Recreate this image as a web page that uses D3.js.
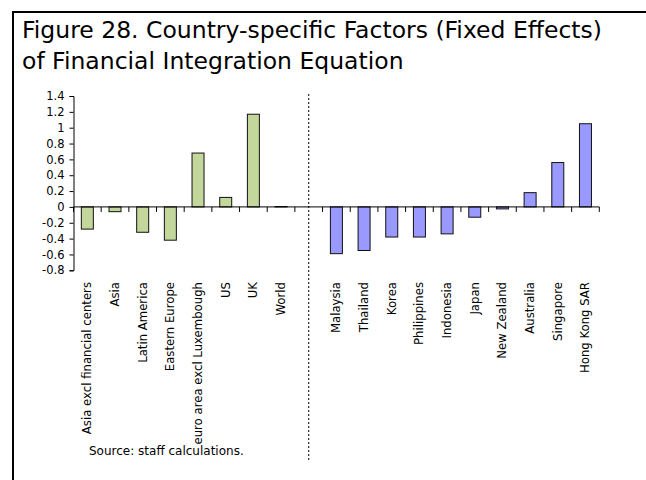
<!DOCTYPE html>
<html><head><meta charset="utf-8">
<script src="https://cdn.jsdelivr.net/npm/d3@7"></script>
<style>
body{margin:0;background:#fff;}
svg{display:block;}
text{font-family:"DejaVu Sans",sans-serif;fill:#000;}
</style></head><body>
<svg id="c" width="646" height="480"></svg>
<script>
const titleLines = ["Figure 28. Country-specific Factors (Fixed Effects)", "of Financial Integration Equation"];
const groupCats = ["Asia excl financial centers","Asia","Latin America","Eastern Europe","euro area excl Luxembough","US","UK","World"];
const groupVals = [-0.28,-0.06,-0.32,-0.42,0.68,0.12,1.17,0.005];
const countryCats = ["Malaysia","Thailand","Korea","Philippines","Indonesia","Japan","New Zealand","Australia","Singapore","Hong Kong SAR"];
const countryVals = [-0.59,-0.55,-0.38,-0.38,-0.34,-0.13,-0.025,0.18,0.56,1.05];
const yTicks = [-0.8,-0.6,-0.4,-0.2,0,0.2,0.4,0.6,0.8,1,1.2,1.4];
const source = "Source: staff calculations.";

const svg = d3.select("#c");
// frame (top and left edges)
svg.append("line").attr("x1",12).attr("x2",646).attr("y1",12).attr("y2",12).attr("stroke","#000").attr("stroke-width",2);
svg.append("line").attr("x1",13).attr("x2",13).attr("y1",11).attr("y2",480).attr("stroke","#000").attr("stroke-width",2);

svg.selectAll("text.title").data(titleLines).enter().append("text")
  .attr("x",22).attr("y",(d,i)=>38+i*31).attr("font-size",23.5).text(d=>d);

const allCats = groupCats.concat(["__gap"], countryCats);
const x = d3.scaleBand().domain(allCats).range([73.5,599.3]).paddingInner(0).paddingOuter(0);
const y = d3.scaleLinear().domain([-0.8,1.4]).range([270.3,96]);

const data = groupCats.map((c,i)=>({c,v:groupVals[i],g:0}))
  .concat(countryCats.map((c,i)=>({c,v:countryVals[i],g:1})));

const bw = 12;
svg.selectAll("rect.bar").data(data).enter().append("rect")
  .attr("x",d=>x(d.c)+x.bandwidth()/2-bw/2)
  .attr("width",bw)
  .attr("y",d=>y(Math.max(0,d.v)))
  .attr("height",d=>Math.abs(y(d.v)-y(0)))
  .attr("fill",d=>d.g?"#9999FF":"#C3D69B")
  .attr("stroke","#111").attr("stroke-width",1);

// y axis
const yAxis = d3.axisLeft(y).tickValues(yTicks).tickSize(4).tickPadding(5)
  .tickFormat(d=>String(+d.toFixed(1)));
const gy = svg.append("g").attr("transform","translate(73.5,0)").call(yAxis);
gy.select(".domain").attr("stroke","#000");
gy.selectAll("text").attr("font-size",11.5).style("font-family","'DejaVu Sans',sans-serif");

// x axis at zero
const y0 = y(0);
svg.append("line").attr("x1",73.5).attr("x2",599.3).attr("y1",y0).attr("y2",y0).attr("stroke","#000");
const bounds = allCats.map(c=>x(c)).concat([x.range()[1]]);
svg.selectAll("line.xt").data(bounds).enter().append("line")
  .attr("x1",d=>d).attr("x2",d=>d).attr("y1",y0).attr("y2",y0+5).attr("stroke","#000");

// category labels
svg.selectAll("text.cat").data(data).enter().append("text")
  .attr("transform",d=>`translate(${x(d.c)+x.bandwidth()/2+4},282) rotate(-90)`)
  .attr("text-anchor","end").attr("font-size",11.7).text(d=>d.c);

// divider
const xd = x("__gap")+x.bandwidth()/2;
svg.append("line").attr("x1",xd).attr("x2",xd).attr("y1",94).attr("y2",460)
  .attr("stroke","#000").attr("stroke-dasharray","2,2");

svg.append("text").attr("x",89).attr("y",455).attr("font-size",12).text(source);
</script></body></html>
